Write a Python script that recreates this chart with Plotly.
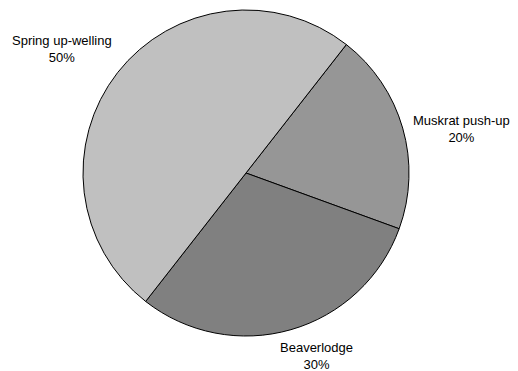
import plotly.graph_objects as go

labels = ["Muskrat push-up", "Beaverlodge", "Spring up-welling"]
values = [20, 30, 50]
colors = ["#969696", "#808080", "#c0c0c0"]

W, H = 518, 371
cx, cy, r = 246, 173, 163
# label block centres in pixels (layout only)
label_pos = [(461, 129), (316, 356), (62, 49)]

fig = go.Figure(go.Pie(
    labels=labels,
    values=values,
    sort=False,
    direction="clockwise",
    rotation=38,
    marker=dict(colors=colors, line=dict(color="#000000", width=1)),
    textinfo="none",
    showlegend=False,
    hoverinfo="skip",
    domain=dict(x=[(cx - r) / W, (cx + r) / W], y=[1 - (cy + r) / H, 1 - (cy - r) / H]),
))

total = sum(values)
for lab, val, (px, py) in zip(labels, values, label_pos):
    fig.add_annotation(
        x=px / W, y=1 - py / H, xref="paper", yref="paper",
        text=f"{lab}<br>{round(100 * val / total)}%",
        showarrow=False, xanchor="center", yanchor="middle", align="center",
        font=dict(family="Liberation Sans, Arial, sans-serif", size=13, color="#000000"),
    )

fig.update_layout(
    width=W, height=H,
    margin=dict(l=0, r=0, t=0, b=0),
    paper_bgcolor="white",
    plot_bgcolor="white",
    font=dict(family="Liberation Sans, Arial, sans-serif", size=13, color="#000000"),
)

fig.write_html("out.html")
